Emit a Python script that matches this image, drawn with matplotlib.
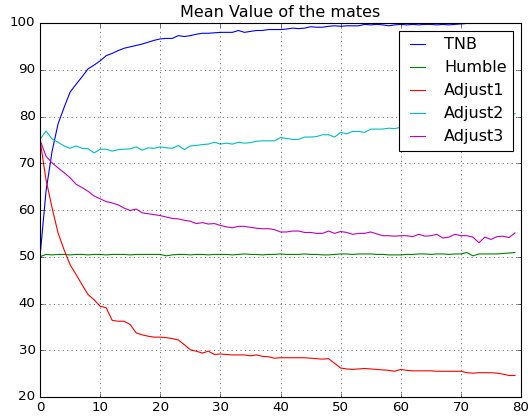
import matplotlib
matplotlib.use('Agg')
import matplotlib.pyplot as plt

# values (generation 0..79)
tnb = [50.0, 64.0, 72.5, 78.4, 81.9, 85.2, 86.9, 88.5, 90.2, 91.0,
       91.9, 93.0, 93.5, 94.1, 94.6, 94.9, 95.2, 95.5, 95.9, 96.3,
       96.6, 96.7, 96.7, 97.3, 97.1, 97.3, 97.6, 97.8, 97.8, 97.9,
       98.0, 98.0, 98.0, 98.4, 98.0, 98.2, 98.4, 98.4, 98.6, 98.6,
       98.6, 98.7, 98.9, 98.8, 98.9, 99.2, 99.1, 99.1, 99.3, 99.4,
       99.3, 99.4, 99.4, 99.4, 99.7, 99.6, 99.7, 99.6, 99.4, 99.6,
       99.7, 99.6, 99.7, 99.6, 99.7, 99.7, 99.6, 99.7, 99.6, 99.7,
       99.8, 99.9, 99.9, 99.9, 99.9, 99.9, 99.9, 99.9, 99.9, 99.9]

humble = [50.0, 50.5, 50.4, 50.5, 50.5, 50.4, 50.5, 50.5, 50.4, 50.5,
          50.5, 50.4, 50.5, 50.5, 50.5, 50.4, 50.5, 50.5, 50.5, 50.5,
          50.5, 50.2, 50.4, 50.5, 50.5, 50.4, 50.5, 50.5, 50.4, 50.5,
          50.5, 50.5, 50.4, 50.5, 50.6, 50.5, 50.5, 50.4, 50.5, 50.5,
          50.6, 50.5, 50.5, 50.5, 50.6, 50.5, 50.5, 50.4, 50.4, 50.5,
          50.6, 50.6, 50.5, 50.6, 50.6, 50.6, 50.5, 50.5, 50.4, 50.4,
          50.4, 50.5, 50.5, 50.6, 50.6, 50.5, 50.6, 50.6, 50.5, 50.6,
          50.6, 50.9, 50.2, 50.6, 50.6, 50.6, 50.6, 50.7, 50.8, 50.9]

adjust1 = [75.0, 66.5, 60.5, 55.1, 51.5, 48.3, 46.2, 44.0, 41.9, 40.8,
           39.4, 39.1, 36.4, 36.2, 36.2, 35.5, 33.7, 33.3, 33.0, 32.8,
           32.8, 32.7, 32.5, 32.2, 31.2, 30.1, 29.8, 29.4, 29.8, 29.1,
           29.2, 29.1, 29.0, 29.0, 29.0, 28.8, 29.0, 28.7, 28.6, 28.3,
           28.4, 28.4, 28.4, 28.4, 28.4, 28.3, 28.2, 28.1, 28.2, 27.2,
           26.2, 26.0, 25.9, 26.0, 26.1, 26.0, 25.9, 25.8, 25.7, 25.5,
           25.9, 25.7, 25.6, 25.6, 25.6, 25.6, 25.5, 25.5, 25.5, 25.5,
           25.5, 25.2, 25.1, 25.2, 25.2, 25.2, 25.1, 24.9, 24.6, 24.6]

adjust2 = [75.1, 76.9, 75.2, 74.5, 73.7, 73.2, 73.7, 73.2, 73.1, 72.2,
           73.0, 73.0, 72.6, 72.9, 73.0, 73.1, 73.5, 72.8, 73.3, 73.2,
           73.5, 73.3, 73.2, 73.8, 72.9, 73.7, 73.8, 74.0, 74.1, 74.5,
           74.1, 74.3, 74.1, 74.5, 74.3, 74.4, 74.7, 74.8, 74.8, 74.8,
           75.5, 75.3, 75.1, 75.1, 75.6, 75.6, 75.7, 76.1, 76.1, 75.6,
           76.6, 76.3, 76.8, 76.8, 76.6, 77.3, 77.3, 77.3, 77.5, 77.4,
           77.7, 77.6, 77.9, 78.0, 78.2, 78.1, 78.5, 78.6, 78.9, 79.0,
           79.2, 79.4, 79.6, 79.8, 79.9, 80.0, 80.2, 80.3, 80.5, 80.6]

adjust3 = [75.0, 71.5, 70.1, 69.0, 68.0, 66.9, 65.5, 64.8, 64.0, 63.0,
           62.4, 61.8, 61.5, 61.1, 60.4, 59.9, 60.2, 59.4, 59.2, 59.0,
           58.8, 58.5, 58.2, 58.1, 57.8, 57.6, 57.1, 57.3, 57.0, 57.1,
           56.7, 56.4, 56.2, 56.5, 56.5, 56.3, 56.1, 56.0, 56.0, 55.8,
           55.3, 55.3, 55.5, 55.5, 55.2, 55.2, 55.0, 55.0, 55.5, 55.0,
           55.4, 55.2, 54.8, 55.0, 55.0, 55.3, 54.9, 54.5, 54.5, 54.4,
           54.5, 54.5, 54.3, 54.8, 54.4, 54.5, 54.8, 54.0, 54.2, 54.8,
           54.5, 54.5, 54.2, 53.0, 54.2, 53.7, 54.3, 54.4, 54.1, 55.1]

labels = ['TNB', 'Humble', 'Adjust1', 'Adjust2', 'Adjust3']

plt.style.use('classic')

fig = plt.figure(figsize=(6.6, 5.2125), dpi=80)
ax = fig.add_axes([40 / 528, 20 / 417, 481 / 528, 374 / 417])

x = list(range(len(tnb)))
for series, name in zip([tnb, humble, adjust1, adjust2, adjust3], labels):
    ax.plot(x, series, label=name)

ax.set_xlim(0, 80)
ax.set_ylim(20, 100)
ax.set_title('Mean Value of the mates')
ax.grid(True)
ax.legend(loc='upper right', handlelength=1.5, handletextpad=0.9)

fig.savefig('out.png', dpi=80)
